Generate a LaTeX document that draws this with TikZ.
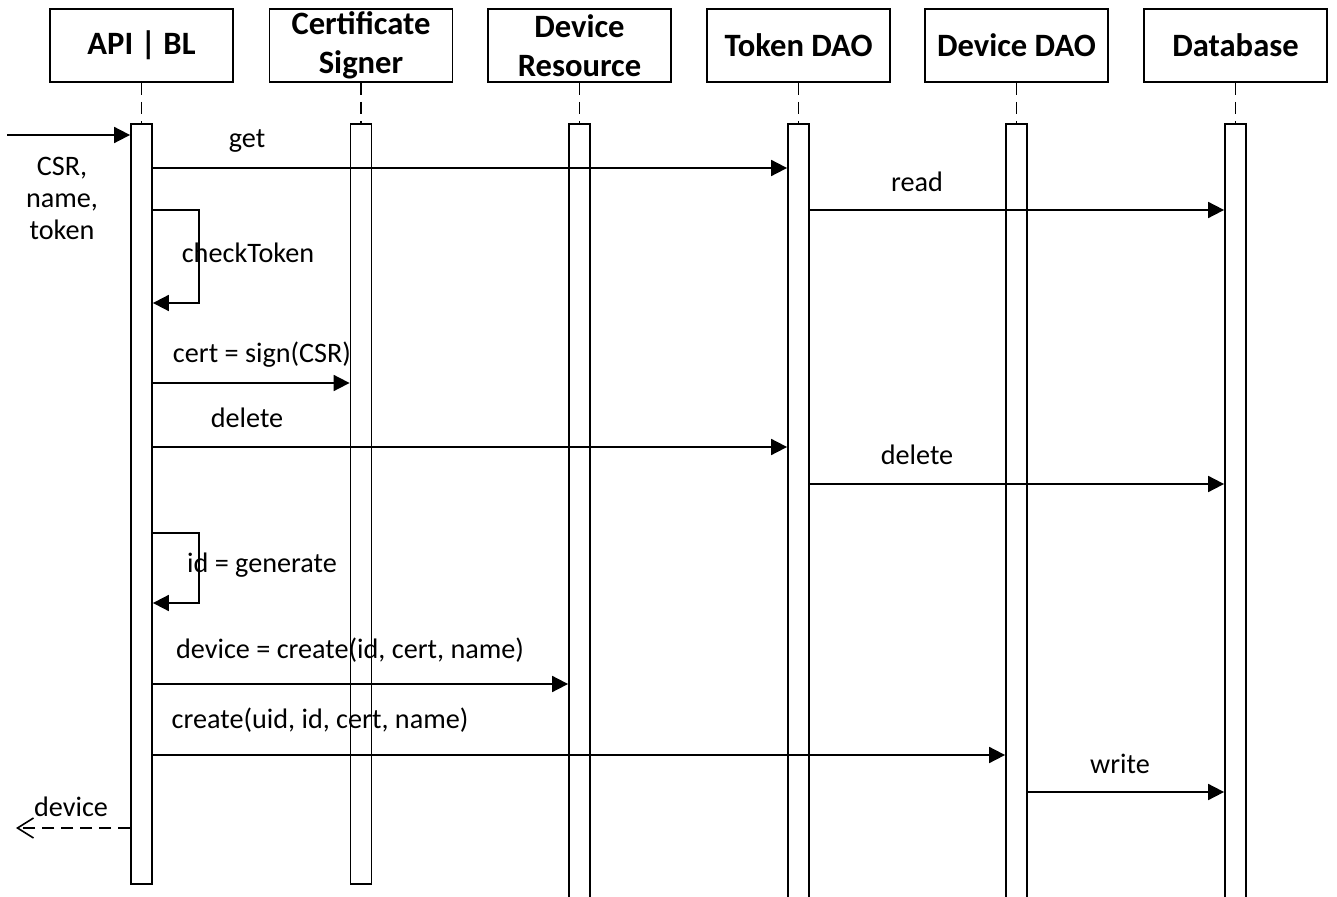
\documentclass[tikz,border=0pt]{standalone}
\usepackage{fontspec}
\setmainfont{Carlito}
\usetikzlibrary{arrows.meta}
\begin{document}
\begin{tikzpicture}[x=0.5pt,y=-0.5pt,
  head/.style={draw,line width=0.9pt,minimum width=91.5pt,minimum height=36.5pt,
    inner sep=0pt,align=center,font=\fontsize{16.3}{19.3}\selectfont\bfseries},
  actbar/.style={draw,line width=0.9pt,fill=white,minimum width=10.5pt,inner sep=0pt},
  life/.style={line width=0.8pt,dash pattern=on 6pt off 3.5pt},
  msg/.style={line width=0.9pt,-{Triangle[length=8pt,width=8pt]}},
  ret/.style={line width=0.8pt,dash pattern=on 6pt off 3.5pt,
    -{Straight Barb[length=8pt,width=10pt,line width=0.8pt]}},
  lbl/.style={anchor=base,inner sep=0pt,font=\fontsize{14.1}{16}\selectfont}]

\useasboundingbox (0,0) rectangle (1337,897);

% participants
\node[head] (hapi)  at (141.5,45.5)  {API | BL};
\node[head] (hcert) at (361,45.5)    {Certificate\\Signer};
\node[head] (hres)  at (579.5,45.5)  {Device\\Resource};
\node[head] (htok)  at (798.5,45.5)  {Token DAO};
\node[head] (hdev)  at (1016.5,45.5) {Device DAO};
\node[head] (hdb)   at (1235.5,45.5) {Database};

% activation bars
\node[actbar,minimum height=380pt] (bapi)  at (141.5,504) {};
\node[actbar,minimum height=380pt] (bcert) at (361,504)   {};
\node[actbar,minimum height=390pt] (bres)  at (579.5,514) {};
\node[actbar,minimum height=390pt] (btok)  at (798.5,514) {};
\node[actbar,minimum height=390pt] (bdev)  at (1016.5,514) {};
\node[actbar,minimum height=390pt] (bdb)   at (1235.5,514) {};

% lifelines between heads and bars
\foreach \p in {api,cert,res,tok,dev,db}
  \draw[life] (h\p.south) -- (b\p.north);

% message levels
\coordinate (inS)  at (7,135);
\coordinate (yget) at (0,168);
\coordinate (yrd)  at (0,210);
\coordinate (yct1) at (0,210);
\coordinate (yct2) at (0,303);
\coordinate (ysig) at (0,383);
\coordinate (ydl1) at (0,447);
\coordinate (ydl2) at (0,484);
\coordinate (yid1) at (0,533);
\coordinate (yid2) at (0,603);
\coordinate (ydc)  at (0,684);
\coordinate (ycr)  at (0,755);
\coordinate (ywr)  at (0,792);
\coordinate (outE) at (16,828);

% incoming call
\draw[msg] (inS) -- (bapi.west |- inS);
\node[lbl,align=center,anchor=center] (lin) at (62,198) {CSR,\\name,\\token};

% get / read
\draw[msg] (bapi.east |- yget) -- (btok.west |- yget);
\node[lbl] (lget) at (247,148) {get};
\draw[msg] (btok.east |- yrd) -- (bdb.west |- yrd);
\node[lbl] (lrd) at (917,192) {read};

% checkToken
\draw[msg] (bapi.east |- yct1) -- ++(46,0) |- (bapi.east |- yct2);
\node[lbl] (lct) at (248,263) {checkToken};

% sign
\draw[msg] (bapi.east |- ysig) -- (bcert.west |- ysig);
\node[lbl] (lsig) at (262,363) {cert = sign(CSR)};

% delete / delete
\draw[msg] (bapi.east |- ydl1) -- (btok.west |- ydl1);
\node[lbl] (ldl1) at (247,428) {delete};
\draw[msg] (btok.east |- ydl2) -- (bdb.west |- ydl2);
\node[lbl] (ldl2) at (917,465) {delete};

% id = generate
\draw[msg] (bapi.east |- yid1) -- ++(46,0) |- (bapi.east |- yid2);
\node[lbl] (lid) at (262,572) {id = generate};

% device resource
\draw[msg] (bapi.east |- ydc) -- (bres.west |- ydc);
\node[lbl] (ldc) at (350,658) {device = create(id, cert, name)};

% device DAO / write
\draw[msg] (bapi.east |- ycr) -- (bdev.west |- ycr);
\node[lbl] (lcr) at (320,728) {create(uid, id, cert, name)};
\draw[msg] (bdev.east |- ywr) -- (bdb.west |- ywr);
\node[lbl] (lwr) at (1120,773) {write};

% reply
\draw[ret] (bapi.west |- outE) -- (outE);
\node[lbl] (lout) at (71,816) {device};
\end{tikzpicture}
\end{document}
